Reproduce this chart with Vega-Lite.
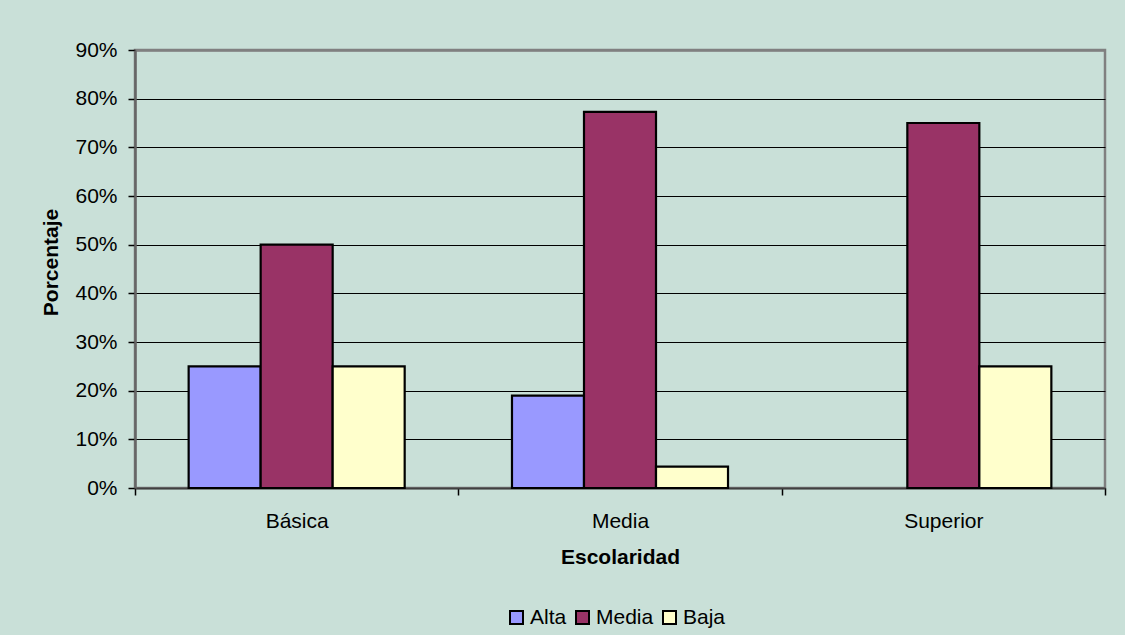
{
  "$schema": "https://vega.github.io/schema/vega-lite/v6.json",
  "autosize": "none",
  "width": 970,
  "height": 438,
  "padding": {"left": 135, "top": 50, "right": 20, "bottom": 147},
  "background": "#C9E0D8",
  "data": {
    "values": [
      {"escolaridad": "Básica", "nivel": "Alta", "porcentaje": 0.25},
      {"escolaridad": "Básica", "nivel": "Media", "porcentaje": 0.50},
      {"escolaridad": "Básica", "nivel": "Baja", "porcentaje": 0.25},
      {"escolaridad": "Media", "nivel": "Alta", "porcentaje": 0.19},
      {"escolaridad": "Media", "nivel": "Media", "porcentaje": 0.773},
      {"escolaridad": "Media", "nivel": "Baja", "porcentaje": 0.044},
      {"escolaridad": "Superior", "nivel": "Alta", "porcentaje": 0},
      {"escolaridad": "Superior", "nivel": "Media", "porcentaje": 0.75},
      {"escolaridad": "Superior", "nivel": "Baja", "porcentaje": 0.25}
    ]
  },
  "mark": {"type": "bar", "stroke": "#000000", "strokeWidth": 2.2},
  "encoding": {
    "x": {
      "field": "escolaridad",
      "type": "nominal",
      "sort": ["Básica", "Media", "Superior"],
      "scale": {"paddingInner": 0, "paddingOuter": 0},
      "axis": {
        "title": "Escolaridad",
        "labelAngle": 0,
        "tickBand": "extent",
        "tickSize": 7,
        "tickColor": "#000000",
        "tickWidth": 1.5,
        "domainColor": "#404040",
        "domainWidth": 2,
        "labelPadding": 15,
        "labelFont": "Liberation Sans",
        "labelFontSize": 21,
        "labelColor": "#000000",
        "titleFont": "Liberation Sans",
        "titleFontSize": 21,
        "titleFontWeight": "bold",
        "titleColor": "#000000",
        "titleBaseline": "alphabetic",
        "titleY": 75,
        "titleX": 485
      }
    },
    "xOffset": {
      "field": "nivel",
      "type": "nominal",
      "sort": ["Alta", "Media", "Baja"],
      "scale": {"paddingInner": 0, "paddingOuter": 0.745}
    },
    "y": {
      "field": "porcentaje",
      "type": "quantitative",
      "scale": {"domain": [0, 0.9], "nice": false},
      "axis": {
        "title": "Porcentaje",
        "format": ".0%",
        "values": [0, 0.1, 0.2, 0.3, 0.4, 0.5, 0.6, 0.7, 0.8, 0.9],
        "grid": true,
        "gridColor": {"condition": {"test": "datum.value >= 0.9", "value": "#808080"}, "value": "#000000"},
        "gridWidth": {"condition": {"test": "datum.value >= 0.9", "value": 2.5}, "value": 1},
        "gridOpacity": 1,
        "tickSize": 7,
        "tickColor": "#000000",
        "tickWidth": 1.5,
        "domainColor": "#666666",
        "domainWidth": 2.5,
        "labelPadding": 11,
        "labelFont": "Liberation Sans",
        "labelFontSize": 21,
        "labelColor": "#000000",
        "titleFont": "Liberation Sans",
        "titleFontSize": 21,
        "titleFontWeight": "bold",
        "titleColor": "#000000",
        "titleBaseline": "alphabetic",
        "titleAngle": -90,
        "titleX": -78,
        "titleY": 212
      }
    },
    "color": {
      "field": "nivel",
      "type": "nominal",
      "sort": ["Alta", "Media", "Baja"],
      "scale": {"domain": ["Alta", "Media", "Baja"], "range": ["#9999FF", "#993366", "#FFFFCC"]},
      "legend": {
        "title": null,
        "orient": "none",
        "direction": "horizontal",
        "legendX": 371,
        "legendY": 557,
        "symbolType": "square",
        "symbolSize": 169,
        "symbolStrokeColor": "#000000",
        "symbolStrokeWidth": 2,
        "symbolOpacity": 1,
        "labelFont": "Liberation Sans",
        "labelFontSize": 21,
        "labelColor": "#000000",
        "labelOffset": 3,
        "columnPadding": 5
      }
    },
    "strokeOpacity": {
      "condition": {"test": "datum.porcentaje == 0", "value": 0},
      "value": 1
    }
  },
  "config": {
    "view": {"stroke": "#808080", "strokeWidth": 2.5, "fill": "#C9E0D8"}
  }
}
